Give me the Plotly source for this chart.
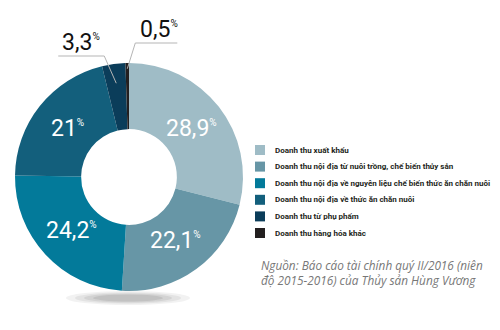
import math
import plotly.graph_objects as go

# Revenue structure, Q2/2016 (share of total, %)
categories = [
    "Doanh thu xuất khẩu",
    "Doanh thu nội địa từ nuôi trồng, chế biến thủy sản",
    "Doanh thu nội địa về nguyên liệu chế biến thức ăn chăn nuôi",
    "Doanh thu nội địa về thức ăn chăn nuôi",
    "Doanh thu từ phụ phẩm",
    "Doanh thu hàng hóa khác",
]
shares = [28.9, 22.1, 24.2, 21.0, 3.3, 0.5]
colors = ["#9fbcc6", "#6796a6", "#037a9a", "#135f7c", "#0b3d5a", "#231f20"]
source_lines = [
    "Nguồn: Báo cáo tài chính quý II/2016 (niên",
    "độ 2015-2016) của Thủy sản Hùng Vương",
]

W, H = 500, 330
CX, CY, R = 129, 177, 114          # donut centre and outer radius (px)
HOLE = 0.42
LABEL_R = 0.69                     # inside labels sit at this fraction of R
NUM_FONT = "Roboto, Liberation Sans, sans-serif"


def fmt(v):
    s = f"{v:.1f}".replace(".", ",")
    return s[:-2] if s.endswith(",0") else s


def label_html(v):
    return f"{fmt(v)}<sup><span style='font-size:10px'>%</span></sup>"


def px(x, y):
    return x / W, 1 - y / H


fig = go.Figure()
fig.add_trace(go.Pie(
    labels=categories,
    values=shares,
    textinfo="none",
    marker=dict(colors=colors, line=dict(width=0)),
    hole=HOLE,
    sort=False,
    direction="clockwise",
    rotation=0,
    domain=dict(x=[(CX - R) / W, (CX + R) / W], y=[1 - (CY + R) / H, 1 - (CY - R) / H]),
    showlegend=False,
))

shapes = []
annotations = []

# soft shadow under the ring
for k, op in enumerate([0.05, 0.06, 0.07, 0.08]):
    rx, ry = 62 - k * 9, 7 - k * 1.2
    x0, y0 = px(CX - 1 - rx, 298 - ry)
    x1, y1 = px(CX - 1 + rx, 298 + ry)
    shapes.append(dict(type="circle", xref="paper", yref="paper", x0=x0, x1=x1,
                       y0=y1, y1=y0, fillcolor=f"rgba(0,0,0,{op})", line=dict(width=0),
                       layer="below"))

# value labels: inside the ring for big slices, leader lines for the small ones
# leader geometry: (radius fraction, elbow y, elbow dx, tail dx)
leader_style = {4: (0.83, 56, -12, -46), 5: (0.95, 43, 8, 42)}
total = sum(shares)
cum = 0.0
for i, v in enumerate(shares):
    mid = (cum + v / 2) / total * 2 * math.pi
    cum += v
    if i not in leader_style:
        lx = CX + LABEL_R * R * math.sin(mid)
        ly = CY - LABEL_R * R * math.cos(mid)
        annotations.append(dict(xref="paper", yref="paper", x=px(lx, 0)[0], y=px(0, ly)[1],
                                xanchor="center", yanchor="middle", showarrow=False,
                                text=label_html(v),
                                font=dict(family=NUM_FONT, size=23, color="white")))
        continue
    frac, ey, edx, tail = leader_style[i]
    ax = CX + frac * R * math.sin(mid)
    ay = CY - frac * R * math.cos(mid)
    ex = ax + edx
    tx = ex + tail
    p0, p1, p2 = px(ax, ay), px(ex, ey), px(tx, ey)
    shapes.append(dict(type="path", xref="paper", yref="paper",
                       path=f"M{p0[0]},{p0[1]} L{p1[0]},{p1[1]} L{p2[0]},{p2[1]}",
                       line=dict(color="#b5b5b5", width=1)))
    lx = (ex + tx) / 2 + (0 if tail < 0 else 3)
    annotations.append(dict(xref="paper", yref="paper", x=px(lx, 0)[0], y=px(0, ey + 2)[1],
                            xanchor="center", yanchor="bottom", showarrow=False,
                            text=label_html(v),
                            font=dict(family=NUM_FONT, size=23, color="#111111")))

# legend: colour swatch + category name per row
LEG_X, LEG_Y0, LEG_STEP, SW = 255, 150, 16.6, 10
for i, (name, c) in enumerate(zip(categories, colors)):
    yc = LEG_Y0 + i * LEG_STEP
    x0, y0 = px(LEG_X, yc - SW / 2)
    x1, y1 = px(LEG_X + SW, yc + SW / 2)
    shapes.append(dict(type="rect", xref="paper", yref="paper", x0=x0, x1=x1,
                       y0=y1, y1=y0, fillcolor=c, line=dict(width=0)))
    annotations.append(dict(xref="paper", yref="paper", x=px(LEG_X + 18, 0)[0],
                            y=px(0, yc)[1], xanchor="left", yanchor="middle",
                            showarrow=False, text=name,
                            font=dict(family="Roboto, sans-serif", size=8,
                                      color="#231f20", weight="bold")))

annotations.append(dict(xref="paper", yref="paper", x=px(259, 0)[0], y=px(0, 255)[1],
                        xanchor="left", yanchor="top", align="left", showarrow=False,
                        text="<br>".join(source_lines),
                        font=dict(family="Open Sans, Noto Sans, sans-serif", size=11.8,
                                  color="#777777", style="italic")))

fig.update_layout(
    width=W, height=H,
    margin=dict(l=0, r=0, t=0, b=0, autoexpand=False),
    paper_bgcolor="white",
    plot_bgcolor="white",
    shapes=shapes,
    annotations=annotations,
    showlegend=False,
)

fig.write_html("out.html")
